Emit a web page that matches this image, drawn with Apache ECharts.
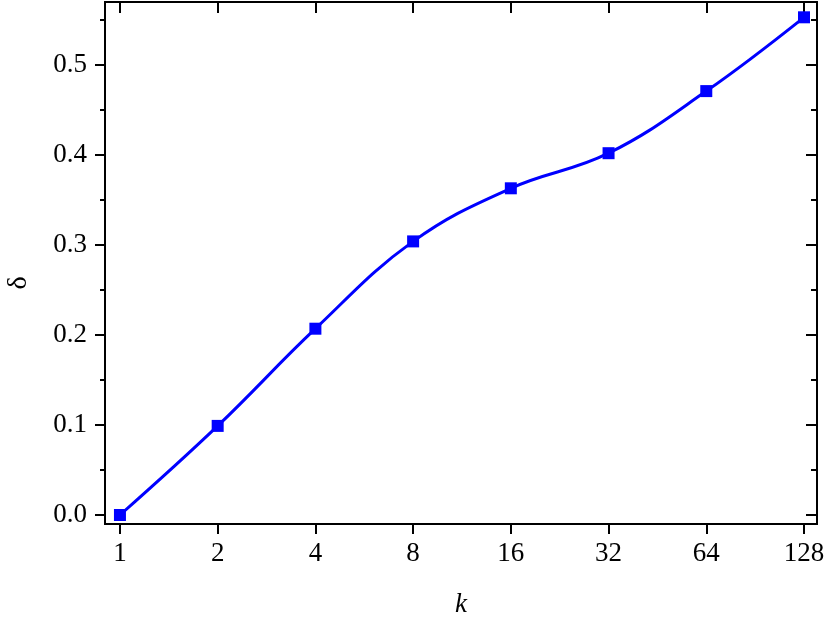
<!DOCTYPE html>
<html>
<head>
<meta charset="utf-8">
<script src="https://cdn.jsdelivr.net/npm/echarts@6/dist/echarts.min.js"></script>
<style>
  html, body { margin: 0; padding: 0; background: #fff; }
  #chart { width: 830px; height: 625px; }
</style>
</head>
<body>
<div id="chart"></div>
<script>
// k values (log2 spaced, drawn as evenly spaced positions)
const categories = ['1', '2', '4', '8', '16', '32', '64', '128'];
const deltaValues = [0.0, 0.099, 0.207, 0.304, 0.363, 0.402, 0.471, 0.553];
const yMajorTicks = [0, 0.1, 0.2, 0.3, 0.4, 0.5];
const yMinorTicks = [0.05, 0.15, 0.25, 0.35, 0.45, 0.55];

const font = 'Liberation Serif';
const xTickPos = categories.map((c, i) => i);
const seriesData = deltaValues.map((v, i) => [i, v]);

const myChart = echarts.init(document.getElementById('chart'));

const yBase = {
  type: 'value',
  min: -0.01,
  max: 0.57,
  offset: 0,
  splitLine: { show: false },
  axisLine: { show: true, onZero: false, lineStyle: { color: '#000', width: 2 } }
};

const option = {
  animation: false,
  grid: { left: 105, right: 13, top: 2, bottom: 101, containLabel: false, outerBoundsMode: 'none' },
  xAxis: [
    {
      type: 'value',
      position: 'bottom',
      offset: 0,
      min: -0.153,
      max: 7.133,
      name: 'k',
      nameLocation: 'middle',
      nameGap: 67,
      nameTextStyle: { fontFamily: font, fontSize: 27, fontStyle: 'italic', color: '#000' },
      splitLine: { show: false },
      axisLine: { show: true, onZero: false, lineStyle: { color: '#000', width: 2 } },
      axisTick: { show: true, inside: false, length: 10, customValues: xTickPos, lineStyle: { width: 2, color: '#000' } },
      axisLabel: {
        customValues: xTickPos,
        margin: 16,
        fontFamily: font, fontSize: 27, color: '#000',
        formatter: v => categories[Math.round(v)]
      }
    },
    {
      type: 'value',
      position: 'top',
      offset: 0,
      min: -0.153,
      max: 7.133,
      splitLine: { show: false },
      axisLine: { show: true, onZero: false, lineStyle: { color: '#000', width: 2 } },
      axisTick: { show: true, inside: true, length: 11, customValues: xTickPos, lineStyle: { width: 2, color: '#000' } },
      axisLabel: { show: false }
    }
  ],
  yAxis: [
    Object.assign({}, yBase, {
      position: 'left',
      name: 'δ',
      nameLocation: 'middle',
      nameGap: 72,
      nameTextStyle: { fontFamily: font, fontSize: 28, color: '#000', padding: [0, 40, 0, 0] },
      axisTick: { show: true, inside: false, length: 10, customValues: yMajorTicks, lineStyle: { width: 2, color: '#000' } },
      axisLabel: {
        customValues: yMajorTicks,
        margin: 18,
        fontFamily: font, fontSize: 27, color: '#000',
        formatter: v => v.toFixed(1)
      }
    }),
    Object.assign({}, yBase, {
      position: 'left',
      axisTick: { show: true, inside: false, length: 5, customValues: yMinorTicks, lineStyle: { width: 2, color: '#000' } },
      axisLabel: { show: false }
    }),
    Object.assign({}, yBase, {
      position: 'right',
      axisTick: { show: true, inside: true, length: 11, customValues: yMajorTicks, lineStyle: { width: 2, color: '#000' } },
      axisLabel: { show: false }
    }),
    Object.assign({}, yBase, {
      position: 'right',
      axisTick: { show: true, inside: true, length: 6, customValues: yMinorTicks, lineStyle: { width: 2, color: '#000' } },
      axisLabel: { show: false }
    })
  ],
  series: [{
    type: 'line',
    xAxisIndex: 0,
    yAxisIndex: 0,
    data: seriesData,
    smooth: 0.4,
    symbol: 'rect',
    symbolSize: 12,
    lineStyle: { color: '#0000ff', width: 3 },
    itemStyle: { color: '#0000ff' },
    z: 3
  }]
};

myChart.setOption(option);
</script>
</body>
</html>
